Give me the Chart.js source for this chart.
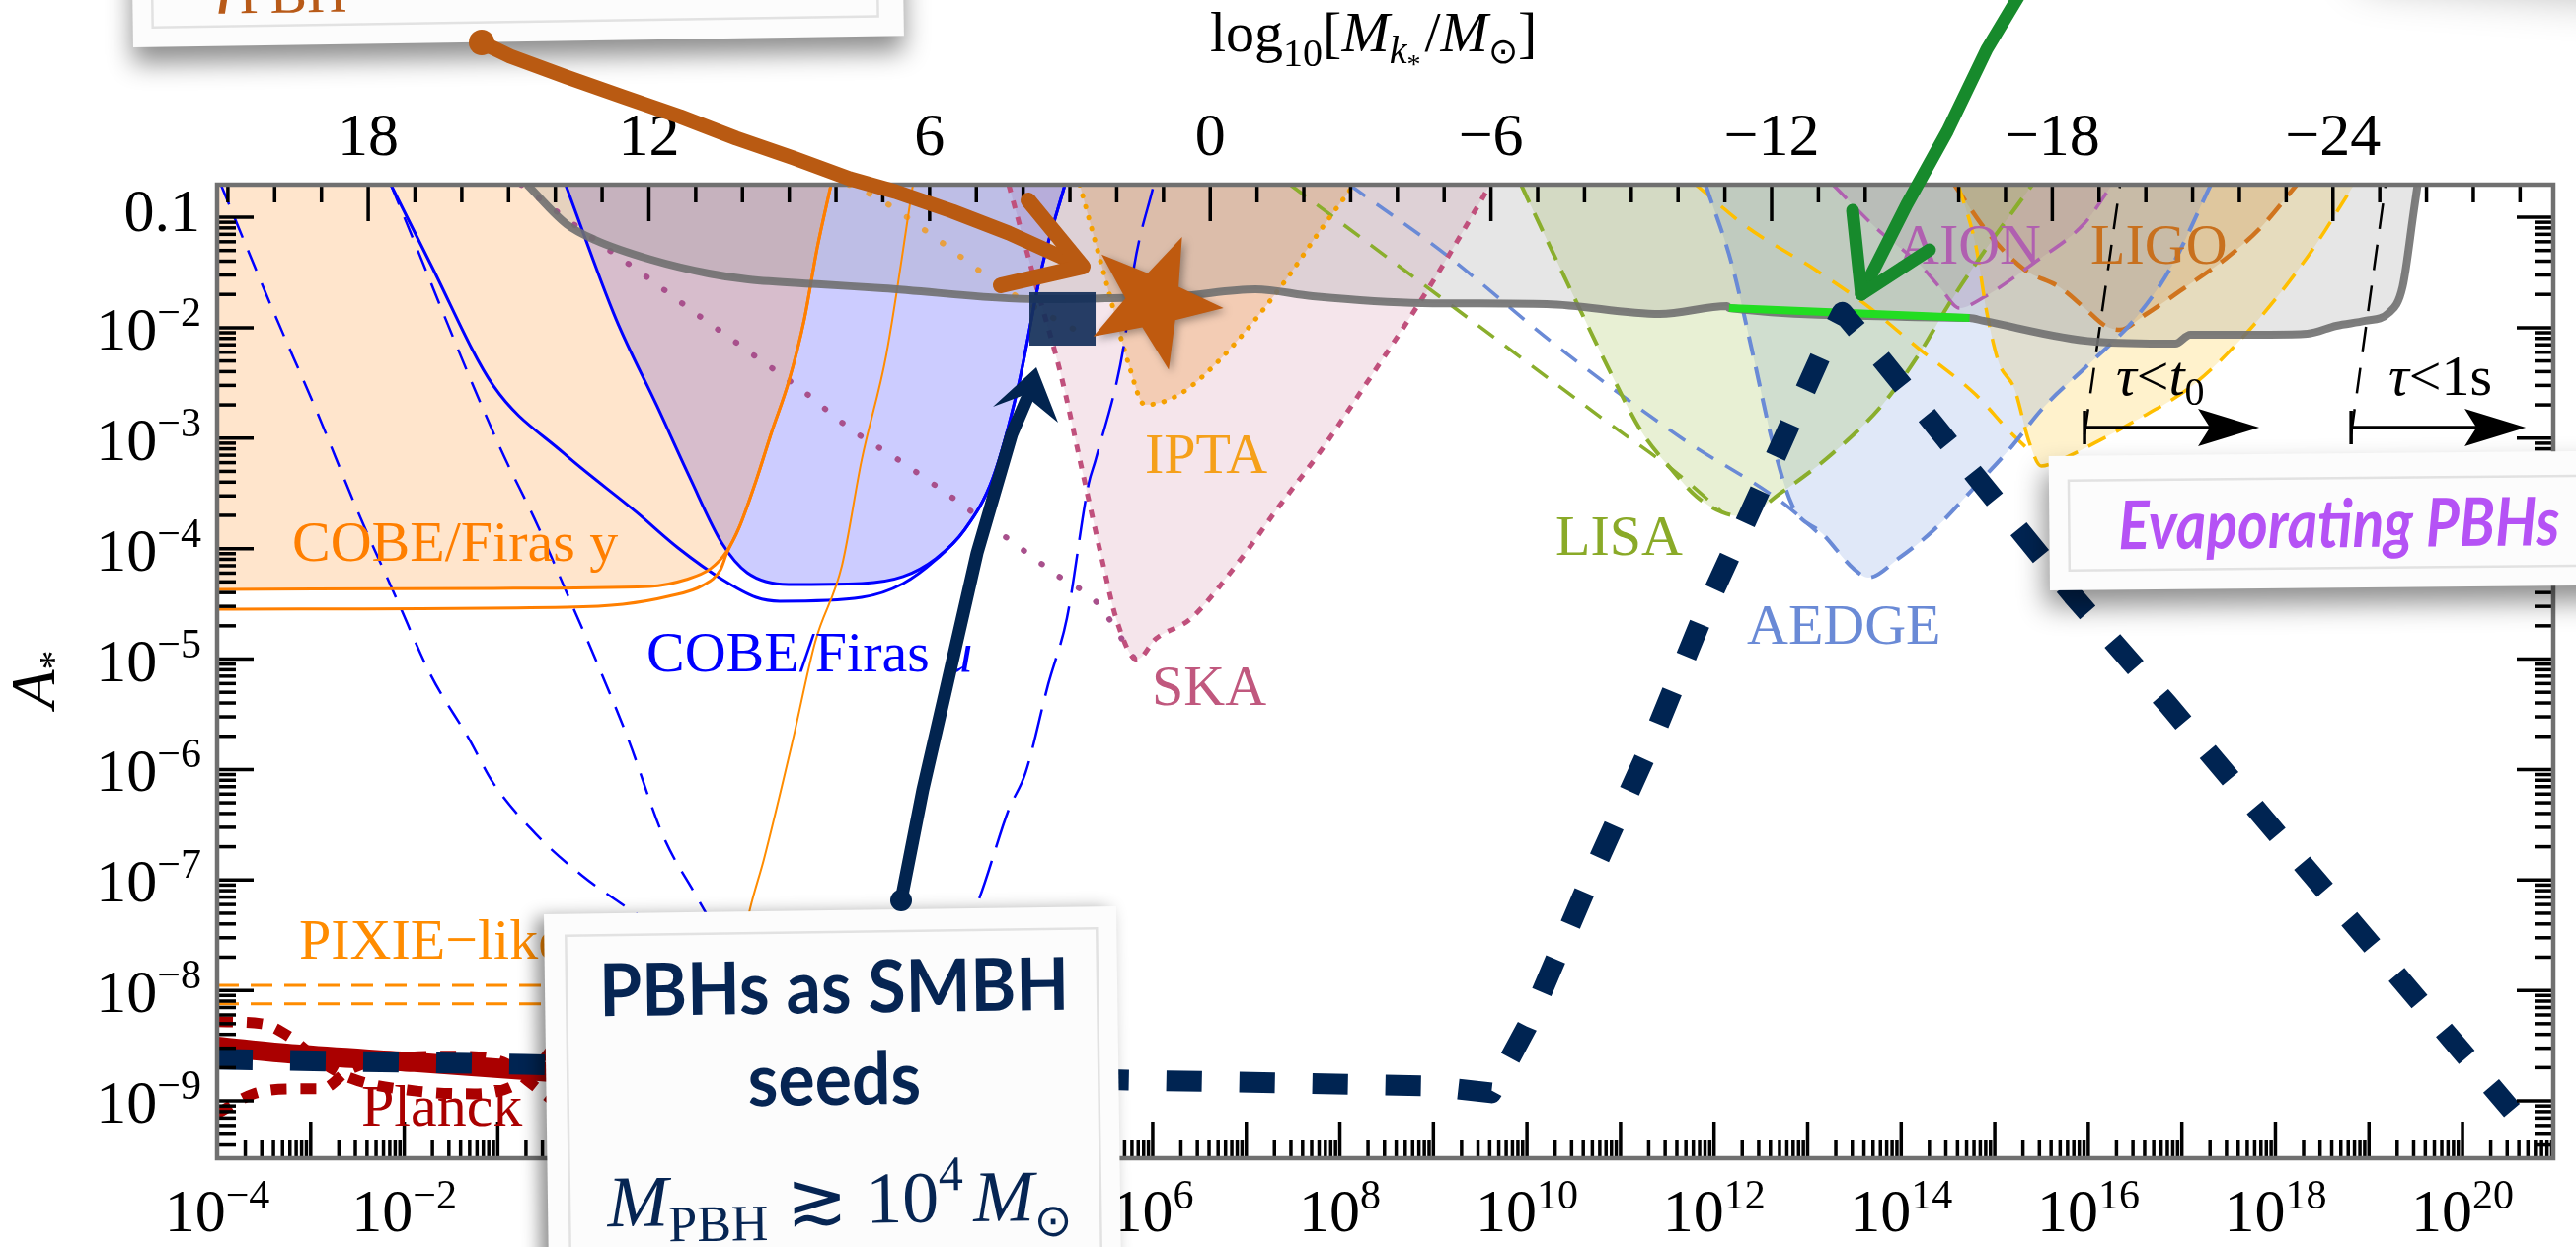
<!DOCTYPE html>
<html>
<head>
<meta charset="utf-8">
<script src="https://cdn.jsdelivr.net/npm/chart.js@4.4.1/dist/chart.umd.min.js"></script>
<style>
  html, body { margin: 0; padding: 0; background: #fff; }
</style>
</head>
<body>
<canvas id="chart" width="2610" height="1263"></canvas>
<script>
// every curve is a list of [log10 k, log10 A*] pairs
const cobeY = [[-4, -4.369], [-1.046, -4.36], [0.621, -4.342], [1.011, -4.28], [1.275, -4.181], [1.444, -4.029], [1.581, -3.806], [1.76, -3.386], [1.929, -2.939], [2.108, -2.492], [2.277, -1.92], [2.414, -1.277], [2.562, -0.705]];
const cobeYLow = [[-4, -4.548], [-0.265, -4.53], [0.336, -4.503], [0.821, -4.432], [1.19, -4.333], [1.38, -4.19], [1.444, -4.05], [1.581, -3.806], [1.76, -3.386], [1.929, -2.939], [2.108, -2.492], [2.277, -1.92], [2.414, -1.277], [2.562, -0.705]];
const orangeThin = [[1.539, -7.88], [1.697, -7.256], [1.845, -6.809], [2.15, -5.745], [2.393, -4.843], [2.678, -4.155], [2.889, -3.198], [3.153, -2.242], [3.437, -0.705]];
const pixieY1 = [[-4, -7.953], [1.0, -7.953]];
const pixieY2 = [[-4, -8.122], [1.0, -8.122]];
const cobeMu = [[-0.276, -0.705], [0.262, -1.92], [0.705, -2.716], [1.053, -3.359], [1.401, -3.958], [1.665, -4.217], [2.108, -4.324], [2.889, -4.315], [3.332, -4.253], [3.68, -4.092], [3.986, -3.833], [4.292, -3.359], [4.556, -2.555], [4.82, -1.438], [5.062, -0.705]];
const cobeMuLow = [[-2.143, -0.705], [-1.721, -1.42], [-1.046, -2.528], [-0.297, -3.136], [0.484, -3.672], [0.927, -3.994], [1.401, -4.28], [1.76, -4.441], [2.013, -4.476], [2.889, -4.441], [3.332, -4.316], [3.68, -4.101], [3.986, -3.833], [4.292, -3.359], [4.556, -2.555], [4.82, -1.438], [5.062, -0.705]];
const pixieMuA = [[-3.96, -0.705], [-3.409, -1.831], [-2.934, -2.76], [-2.502, -3.654], [-2.08, -4.458], [-1.721, -5.138], [-1.299, -5.736], [-1.057, -6.112], [-0.582, -6.594], [-0.097, -6.961], [0.452, -7.291], [1.0, -7.6]];
const pixieMuB = [[-2.143, -0.705], [-0.993, -3.055], [-0.571, -3.797], [-0.265, -4.396], [0.041, -4.995], [0.399, -5.736], [0.768, -6.603], [1.117, -7.139], [1.5, -7.7]];
const pixieMuR = [[3.9, -7.6], [4.134, -7.193], [4.461, -6.362], [4.64, -6.031], [4.883, -5.227], [5.083, -4.628], [5.315, -3.413], [5.389, -3.198], [5.695, -2.144], [5.801, -1.447], [6.012, -0.705]];
const ska = [[4.461, -0.705], [4.756, -1.626], [5.02, -2.43], [5.231, -3.234], [5.442, -4.038], [5.621, -4.664], [5.832, -5.004], [6.033, -4.816], [6.402, -4.637], [6.887, -4.155], [7.373, -3.592], [7.794, -3.118], [8.153, -2.671], [9.008, -1.563], [9.609, -0.705]];
const skaDots = [[-0.751, -0.705], [0.009, -1.188], [0.526, -1.5], [1.095, -1.858], [1.665, -2.206], [2.235, -2.555], [2.762, -2.912], [3.332, -3.225], [3.902, -3.565], [4.429, -3.895], [4.999, -4.253], [5.389, -4.476], [5.811, -5.004]];
const ipta = [[5.22, -0.705], [5.495, -1.563], [5.737, -2.314], [5.917, -2.698], [6.275, -2.609], [6.761, -2.251], [7.373, -1.626], [7.794, -1.116], [8.153, -0.705]];
const iptaDots = [[2.752, -0.705], [3.068, -0.83], [3.68, -1.188], [4.334, -1.599], [4.862, -1.876], [5.284, -2.072]];
const pbhBound = [[-0.687, -0.705], [-0.265, -1.063], [0.041, -1.206], [0.642, -1.384], [1.254, -1.509], [1.676, -1.563], [2.456, -1.608], [3.121, -1.643], [4.777, -1.742], [5.495, -1.733], [6.275, -1.715], [7.098, -1.652], [7.71, -1.715], [8.88, -1.777], [10.21, -1.786], [11.42, -1.876], [12.14, -1.804], [12.16, -1.822], [14.73, -1.912], [14.88, -1.938], [16.07, -2.126], [16.93, -2.144], [17.09, -2.063], [17.94, -2.063], [18.34, -2.055], [18.65, -1.983], [18.96, -1.938], [19.21, -1.867], [19.36, -1.626], [19.48, -0.937], [19.52, -0.705]];
const pbhGreen = [[12.16, -1.822], [14.73, -1.912]];
const lisa = [[9.936, -0.705], [10.253, -1.277], [10.58, -1.858], [10.907, -2.43], [11.223, -2.939], [11.55, -3.288], [11.814, -3.529], [12.088, -3.672], [12.299, -3.708], [12.732, -3.484], [13.27, -3.136], [13.808, -2.689], [14.188, -2.242], [14.504, -1.795], [14.884, -1.313], [15.401, -0.705]];
const lisaDiag = [[7.468, -0.705], [9.061, -1.715], [10.822, -2.832], [11.614, -3.324], [12.088, -3.672]];
const aedgeDiag = [[8.1, -0.705], [9.124, -1.331], [10.274, -2.135], [11.656, -3.002], [12.732, -3.583], [13.1, -3.85]];
const aedge = [[11.909, -0.705], [12.194, -1.438], [12.415, -2.242], [12.626, -3.038], [12.837, -3.61], [13.164, -3.869], [13.491, -4.181], [13.65, -4.262], [13.966, -4.092], [14.346, -3.833], [14.778, -3.449], [15.158, -3.1], [15.527, -2.716], [15.96, -2.367], [16.498, -1.92], [16.888, -1.447], [17.31, -0.705]];
const gold = [[14.61, -0.705], [14.8, -1.268], [14.916, -1.867], [15.042, -2.314], [15.211, -2.555], [15.369, -3.038], [15.496, -3.252], [15.675, -3.207], [16.044, -3.055], [16.466, -2.859], [17.12, -2.519], [17.732, -2.01], [18.344, -1.357], [18.84, -0.705]];
const goldDiag = [[11.803, -0.705], [12.352, -1.089], [13.08, -1.474], [13.639, -1.804], [14.188, -2.189], [14.8, -2.609], [15.158, -2.939], [15.433, -3.163]];
const aion = [[13.27, -0.705], [13.755, -1.116], [14.188, -1.42], [14.43, -1.652], [14.62, -1.822], [14.884, -1.724], [15.422, -1.411], [15.96, -1.054], [16.255, -0.705]];
const ligo = [[14.567, -0.705], [14.937, -1.152], [15.316, -1.474], [15.696, -1.635], [15.96, -1.822], [16.182, -1.983], [16.34, -2.019], [16.603, -1.885], [17.036, -1.635], [17.468, -1.375], [17.848, -1.089], [18.228, -0.705]];
const tauAge = [[15.96, -2.966], [16.34, -0.705]];
const tauSecond = [[18.809, -2.966], [19.178, -0.705]];
const model = [[-4, -8.623], [-0.719, -8.668], [5.737, -8.811], [8.944, -8.864], [9.62, -8.927], [10.0, -8.328], [10.675, -6.987], [11.308, -5.799], [11.909, -4.548], [12.574, -3.324], [13.217, -2.108], [13.37, -1.86], [13.808, -2.305], [14.81, -3.359], [15.833, -4.423], [16.846, -5.406], [17.859, -6.424], [18.872, -7.434], [19.884, -8.444], [20.528, -9.087]];
const planck = [[-4, -8.507], [-3.156, -8.578], [-1.89, -8.65], [-0.455, -8.739], [0.5, -8.8]];
const planckUp = [[-4, -8.283], [-3.525, -8.301], [-3.23, -8.417], [-2.945, -8.614], [-2.576, -8.793], [-1.89, -8.909], [-1.257, -8.936], [-0.835, -8.864], [-0.571, -8.685], [-0.36, -8.462]];
const planckLow = [[-4, -9.114], [-3.61, -8.936], [-3.209, -8.891], [-2.882, -8.891], [-2.576, -8.712], [-2.101, -8.614], [-1.468, -8.596], [-0.941, -8.65], [-0.677, -8.82], [-0.413, -8.998]];
const tauArrowAge = [[15.96, -2.904], [17.827, -2.904]];
const tauArrowSecond = [[18.809, -2.904], [20.676, -2.904]];
const starPoint = [6.012, -1.76];
const seedPatch = [[4.682, -1.679], [5.389, -2.162]];

// axis ranges and tick labels
const logKMin = -4, logKMax = 20.97;
const logAMin = -9.518, logAMax = -0.705;
const massAtUnitK = 13.23; // log10 M_k/M_sun = 13.23 - 2 log10 k
const kLabelExps = [-4, -2, 0, 2, 4, 6, 8, 10, 12, 14, 16, 18, 20];
const aLabelExps = [-1, -2, -3, -4, -5, -6, -7, -8, -9];
const massLabels = [18, 12, 6, 0, -6, -12, -18, -24];

const SERIF = '"Liberation Serif", "Times New Roman", serif';
const SANS = 'Lato, "Open Sans", "Noto Sans", sans-serif';
const minus = (n) => (n < 0 ? "\u2212" + -n : String(n));

function curve(points, o) {
  return {
    data: points.map(([lk, la]) => ({ x: 10 ** lk, y: 10 ** la })),
    borderColor: o.color,
    borderWidth: o.width,
    borderDash: o.dash || [],
    borderCapStyle: o.cap || "butt",
    borderJoinStyle: "round",
    backgroundColor: o.fill || "transparent",
    fill: o.fill ? "end" : false,
    cubicInterpolationMode: o.straight ? "default" : "monotone",
    tension: 0,
    pointRadius: 0,
    clip: 0,
    order: o.order ?? 6,
  };
}

const datasets = [
  curve(model, { color: "#002452", width: 21, dash: [36, 38], order: 0, straight: true }),
  curve(planck, { color: "#aa0000", width: 20, order: 1 }),
  curve(planckUp, { color: "#aa0000", width: 11, dash: [16, 14], order: 1 }),
  curve(planckLow, { color: "#aa0000", width: 11, dash: [16, 14], order: 1 }),
  curve(pbhGreen, { color: "#22dd22", width: 8, order: 2, straight: true }),
  curve(pbhBound, { color: "rgba(112,112,112,0.9)", width: 8, order: 3, fill: "rgba(128,128,128,0.2)" }),
  curve(cobeY, { color: "#ff7f00", width: 3, fill: "rgba(255,127,0,0.2)" }),
  curve(cobeYLow, { color: "#ff7f00", width: 3 }),
  curve(orangeThin, { color: "#ff8c00", width: 2 }),
  curve(pixieY1, { color: "#ff8c00", width: 3, dash: [22, 12], straight: true }),
  curve(pixieY2, { color: "#ff8c00", width: 3, dash: [22, 12], straight: true }),
  curve(cobeMu, { color: "#0000ff", width: 3, fill: "rgba(0,0,255,0.2)" }),
  curve(cobeMuLow, { color: "#0000ff", width: 3 }),
  curve(pixieMuA, { color: "#0000ff", width: 2.5, dash: [22, 14] }),
  curve(pixieMuB, { color: "#0000ff", width: 2.5, dash: [22, 14] }),
  curve(pixieMuR, { color: "#0000ff", width: 2.5, dash: [40, 14] }),
  curve(ska, { color: "#c0507c", width: 5, dash: [8, 9], fill: "rgba(190,80,120,0.15)" }),
  curve(skaDots, { color: "#a8508c", width: 6, dash: [0.5, 22], cap: "round" }),
  curve(ipta, { color: "#f5a000", width: 5, dash: [0.5, 11], cap: "round", fill: "rgba(250,160,40,0.3)" }),
  curve(iptaDots, { color: "#e8a040", width: 6, dash: [0.5, 22], cap: "round" }),
  curve(lisa, { color: "#8aae2c", width: 4, dash: [20, 12], fill: "rgba(150,185,60,0.22)" }),
  curve(lisaDiag, { color: "#8aae2c", width: 3.5, dash: [20, 14] }),
  curve(aedgeDiag, { color: "#6a8ad6", width: 3.5, dash: [20, 14] }),
  curve(aedge, { color: "#6a8ad6", width: 4, dash: [20, 12], fill: "rgba(100,140,220,0.2)" }),
  curve(gold, { color: "#ffbf00", width: 3.5, dash: [20, 12], fill: "rgba(255,190,0,0.2)" }),
  curve(goldDiag, { color: "#ffbf00", width: 3.5, dash: [20, 14] }),
  curve(aion, { color: "#b060b0", width: 3.5, dash: [20, 12], fill: "rgba(170,90,170,0.18)" }),
  curve(ligo, { color: "#d0741e", width: 4.5, dash: [20, 12], fill: "rgba(210,110,30,0.22)" }),
  curve(tauAge, { color: "#000", width: 2.5, dash: [26, 16], straight: true }),
  curve(tauSecond, { color: "#000", width: 2.5, dash: [26, 16], straight: true }),
];

// text made of runs with own size / style / shift
function runFont(r, base) {
  const size = r.size || base.size;
  const style = r.italic ? "italic " : "";
  const weight = r.weight || base.weight || "normal";
  return `${style}${weight} ${size}px ${r.family || base.family || SERIF}`;
}

function drawRich(ctx, runs, x, y, opt) {
  const base = Object.assign({ size: 58, align: "left", color: "#000" }, opt);
  let total = 0;
  const widths = runs.map((r) => {
    ctx.font = runFont(r, base);
    const w = ctx.measureText(r.t).width + (r.gap || 0);
    total += w;
    return w;
  });
  let cx = x;
  if (base.align === "center") cx = x - total / 2;
  if (base.align === "right") cx = x - total;
  ctx.fillStyle = base.color;
  ctx.textAlign = "left";
  ctx.textBaseline = "alphabetic";
  runs.forEach((r, i) => {
    ctx.font = runFont(r, base);
    ctx.fillText(r.t, cx, y + (r.dy || 0));
    cx += widths[i];
  });
  return total;
}

function drawFit(ctx, text, x, y, width, font, color) {
  ctx.font = font;
  const w = ctx.measureText(text).width;
  ctx.save();
  ctx.translate(x, y);
  ctx.scale(width / w, 1);
  ctx.fillStyle = color;
  ctx.textAlign = "left";
  ctx.textBaseline = "alphabetic";
  ctx.fillText(text, 0, 0);
  ctx.restore();
}

const powRuns = (e) => [{ t: "10" }, { t: minus(e), size: 42, dy: -24 }];

const plotLabels = [
  { runs: [{ t: "COBE/Firas y" }], x: 296, y: 568, color: "#ff7f00" },
  { runs: [{ t: "COBE/Firas " }, { t: "\u03bc", italic: true }], x: 655, y: 680, color: "#0000ff" },
  { runs: [{ t: "IPTA" }], x: 1160, y: 479, color: "#f5a01a" },
  { runs: [{ t: "SKA" }], x: 1167, y: 714, color: "#c0587e" },
  { runs: [{ t: "LISA" }], x: 1576, y: 562, color: "#8aaa28" },
  { runs: [{ t: "AEDGE" }], x: 1770, y: 652, color: "#6a8ad6" },
  { runs: [{ t: "AION" }], x: 1923, y: 267, color: "#b060b0" },
  { runs: [{ t: "LIGO" }], x: 2118, y: 267, color: "#c8701e" },
  { runs: [{ t: "PIXIE\u2212like" }], x: 303, y: 971, color: "#ff8c00" },
  { runs: [{ t: "Planck" }], x: 366, y: 1140, color: "#aa0000", size: 60 },
  { runs: [{ t: "\u03c4", italic: true }, { t: "<" }, { t: "t", italic: true }, { t: "0", size: 40, dy: 10 }], x: 2144, y: 400, color: "#000" },
  { runs: [{ t: "\u03c4", italic: true }, { t: "<1s" }], x: 2420, y: 400, color: "#000" },
];

const frameAxes = {
  id: "frameAxes",
  afterDatasetsDraw(chart) {
    const { ctx, chartArea: a } = chart;
    const { x, y, xTop } = chart.scales;
    ctx.save();

    // navy seed patch and the star
    const [p0, p1] = seedPatch;
    const bx0 = x.getPixelForValue(10 ** p0[0]), by0 = y.getPixelForValue(10 ** p0[1]);
    const bx1 = x.getPixelForValue(10 ** p1[0]), by1 = y.getPixelForValue(10 ** p1[1]);
    ctx.fillStyle = "rgba(22,48,90,0.93)";
    ctx.fillRect(bx0, by0, bx1 - bx0, by1 - by0);

    const sx = x.getPixelForValue(10 ** starPoint[0]), sy = y.getPixelForValue(10 ** starPoint[1]);
    ctx.save();
    ctx.shadowColor = "rgba(0,0,0,0.35)";
    ctx.shadowBlur = 8;
    ctx.shadowOffsetX = 3;
    ctx.shadowOffsetY = 3;
    ctx.fillStyle = "#bf5a0f";
    ctx.beginPath();
    for (let i = 0; i < 10; i++) {
      const ang = 0.1 + (i * Math.PI) / 5;
      const rad = i % 2 === 0 ? 71 : 29;
      const px = sx + rad * Math.cos(ang), py = sy + rad * Math.sin(ang);
      i === 0 ? ctx.moveTo(px, py) : ctx.lineTo(px, py);
    }
    ctx.closePath();
    ctx.fill();
    ctx.restore();

    // tau arrows
    [tauArrowAge, tauArrowSecond].forEach(([s, e]) => {
      const x1 = x.getPixelForValue(10 ** s[0]), x2 = x.getPixelForValue(10 ** e[0]);
      const yy = y.getPixelForValue(10 ** s[1]);
      ctx.strokeStyle = "#000";
      ctx.lineWidth = 3.5;
      ctx.beginPath();
      ctx.moveTo(x1, yy - 17); ctx.lineTo(x1, yy + 17);
      ctx.moveTo(x1, yy); ctx.lineTo(x2 - 40, yy);
      ctx.stroke();
      ctx.fillStyle = "#000";
      ctx.beginPath();
      ctx.moveTo(x2, yy); ctx.lineTo(x2 - 62, yy - 19); ctx.lineTo(x2 - 50, yy); ctx.lineTo(x2 - 62, yy + 19);
      ctx.closePath();
      ctx.fill();
    });

    // ticks, all pointing inward
    ctx.strokeStyle = "#000";
    ctx.lineWidth = 3.5;
    const line = (x1, y1, x2, y2) => { ctx.beginPath(); ctx.moveTo(x1, y1); ctx.lineTo(x2, y2); ctx.stroke(); };
    for (let e = Math.floor(logKMin); e <= Math.ceil(logKMax); e++) {
      for (let m = 1; m <= 9; m++) {
        const v = m * 10 ** e;
        if (Math.log10(v) < logKMin - 1e-9 || Math.log10(v) > logKMax) continue;
        const px = x.getPixelForValue(v);
        line(px, a.bottom, px, a.bottom - (m === 1 ? 37 : 18));
      }
    }
    for (let e = Math.floor(logAMin); e <= Math.ceil(logAMax); e++) {
      for (let m = 1; m <= 9; m++) {
        const v = m * 10 ** e;
        if (Math.log10(v) < logAMin || Math.log10(v) > logAMax) continue;
        const py = y.getPixelForValue(v);
        const len = m === 1 ? 37 : 19;
        line(a.left, py, a.left + len, py);
        line(a.right, py, a.right - len, py);
      }
    }
    for (let n = Math.ceil(xTop.min); n <= Math.floor(xTop.max); n++) {
      const px = xTop.getPixelForValue(n);
      line(px, a.top, px, a.top + (n % 6 === 0 ? 37 : 18));
    }

    ctx.strokeStyle = "#707070";
    ctx.lineWidth = 4.5;
    ctx.strokeRect(a.left, a.top, a.right - a.left, a.bottom - a.top);

    // tick labels
    kLabelExps.forEach((e) => {
      drawRich(ctx, [{ t: "10" }, { t: minus(e), size: 42, dy: -23 }], x.getPixelForValue(10 ** e), a.bottom + 74, { size: 62, align: "center" });
    });
    aLabelExps.forEach((e) => {
      const py = y.getPixelForValue(10 ** e);
      if (e === -1) drawRich(ctx, [{ t: "0.1" }], a.left - 17, py + 14, { size: 62, align: "right" });
      else drawRich(ctx, powRuns(e), a.left - 16, py + 22, { size: 62, align: "right" });
    });
    massLabels.forEach((n) => {
      drawRich(ctx, [{ t: minus(n) }], xTop.getPixelForValue(n), a.top - 30, { size: 62, align: "center" });
    });

    // axis titles
    drawRich(ctx, [
      { t: "log" }, { t: "10", size: 40, dy: 15 }, { t: "[" }, { t: "M", italic: true },
      { t: "k", italic: true, size: 40, dy: 12 }, { t: "*", size: 28, dy: 22, gap: 4 }, { t: "/" },
      { t: "M", italic: true }, { t: "\u2299", size: 36, dy: 12 }, { t: "]" },
    ], 1226, 52, { size: 58 });
    ctx.save();
    ctx.translate(55, 688);
    ctx.rotate(-Math.PI / 2);
    drawRich(ctx, [{ t: "A", italic: true }, { t: "*", size: 40, dy: 12 }], 0, 0, { size: 64, align: "center" });
    ctx.restore();

    plotLabels.forEach((l) => drawRich(ctx, l.runs, l.x, l.y, { color: l.color, size: l.size || 58 }));
    ctx.restore();
  },
};

function paper(ctx, ox, oy, angle, rect, inner, shadow, content) {
  ctx.save();
  ctx.translate(ox, oy);
  ctx.rotate(angle);
  ctx.shadowColor = shadow.color || "rgba(0,0,0,0.45)";
  ctx.shadowBlur = shadow.blur;
  ctx.shadowOffsetX = shadow.dx;
  ctx.shadowOffsetY = shadow.dy;
  ctx.fillStyle = "#fcfcfc";
  ctx.fillRect(rect[0], rect[1], rect[2], rect[3]);
  ctx.shadowColor = "transparent";
  if (inner) {
    ctx.strokeStyle = "#e2e2e2";
    ctx.lineWidth = 2.5;
    ctx.strokeRect(inner[0], inner[1], inner[2], inner[3]);
  }
  if (content) content(ctx);
  ctx.restore();
}

function handLine(ctx, pts, color, width) {
  ctx.strokeStyle = color;
  ctx.lineWidth = width;
  ctx.lineCap = "round";
  ctx.lineJoin = "round";
  ctx.beginPath();
  pts.forEach(([px, py], i) => (i === 0 ? ctx.moveTo(px, py) : ctx.lineTo(px, py)));
  ctx.stroke();
}

const notes = {
  id: "notes",
  afterDraw(chart) {
    const ctx = chart.ctx;
    ctx.save();

    // soft shadow falling in from a note above the top right corner
    paper(ctx, 2390, -55, 0.07, [0, -300, 420, 300], null, { blur: 45, dx: 0, dy: 35, color: "rgba(0,0,0,0.3)" });

    // f_PBH note, mostly above the picture
    paper(ctx, 135, 48, -0.0152, [0, -170, 781, 170], [20, -170, 735, 150], { blur: 26, dx: 0, dy: 16 }, (c) => {
      drawRich(c, [{ t: "f", italic: true }, { t: "PBH", size: 56, dy: 17 }], 86, -50, { size: 80, color: "#b85a18" });
    });

    // evaporating PBHs
    paper(ctx, 2077, 598, -0.0094, [0, -136, 580, 136], [20, -111, 600, 91], { blur: 28, dx: -4, dy: 16 }, (c) => {
      drawFit(c, "Evaporating PBHs", 70, -41, 447, `italic bold 68px ${SANS}`, "#b552f5");
    });

    // SMBH seeds
    paper(ctx, 551, 926, -0.0138, [0, 0, 580, 420], [22, 22, 538, 420], { blur: 18, dx: -8, dy: 4 }, (c) => {
      const boxFont = `bold 74px ${SANS}`;
      drawFit(c, "PBHs as SMBH", 55, 104, 476, boxFont, "#062553");
      c.font = boxFont;
      const w = c.measureText("seeds").width * (476 / c.measureText("PBHs as SMBH").width);
      drawFit(c, "seeds", 292 - w / 2, 197, w, boxFont, "#062553");
      drawRich(c, [
        { t: "M", italic: true }, { t: "PBH", size: 52, dy: 16 }, { t: " \u2273 " },
        { t: "10" }, { t: "4", size: 50, dy: -32, gap: 10 }, { t: "M", italic: true }, { t: "\u2299", size: 46, dy: 16 },
      ], 296, 317, { size: 74, align: "center", color: "#062553" });
    });

    // hand drawn arrows
    handLine(ctx, [[488, 43], [517, 57], [574, 78], [631, 98], [689, 118], [746, 140], [804, 160], [861, 181], [907, 194], [965, 214], [1022, 236], [1097, 270]], "#b95a12", 15);
    handLine(ctx, [[1042, 203], [1097, 270], [1014, 289]], "#b95a12", 16);
    ctx.fillStyle = "#b95a12";
    ctx.beginPath(); ctx.arc(488, 43, 13, 0, 2 * Math.PI); ctx.fill();

    handLine(ctx, [[2046, -5], [2013, 50], [1973, 133], [1932, 207], [1886, 298]], "#178a2c", 13);
    handLine(ctx, [[1877, 213], [1886, 298], [1955, 253]], "#178a2c", 13);

    handLine(ctx, [[913, 912], [935, 800], [958, 700], [990, 560], [1025, 440], [1040, 405]], "#02244f", 13);
    ctx.fillStyle = "#02244f";
    ctx.beginPath(); ctx.arc(913, 912, 11, 0, 2 * Math.PI); ctx.fill();
    ctx.beginPath();
    ctx.moveTo(1050, 372); ctx.lineTo(1006, 412); ctx.lineTo(1038, 400); ctx.lineTo(1072, 428);
    ctx.closePath();
    ctx.fill();

    ctx.restore();
  },
};

new Chart(document.getElementById("chart"), {
  type: "line",
  data: { datasets },
  options: {
    responsive: false,
    animation: false,
    devicePixelRatio: 1,
    events: [],
    layout: { padding: { left: 220, top: 187, right: 23, bottom: 90 } },
    plugins: {
      legend: { display: false },
      tooltip: { enabled: false },
      filler: { drawTime: "beforeDatasetsDraw" },
    },
    scales: {
      x: { type: "logarithmic", min: 10 ** logKMin, max: 10 ** logKMax, bounds: "data", display: false },
      y: { type: "logarithmic", min: 10 ** logAMin, max: 10 ** logAMax, bounds: "data", display: false },
      xTop: {
        type: "linear", position: "top", reverse: true, bounds: "data", display: false,
        min: massAtUnitK - 2 * logKMax, max: massAtUnitK - 2 * logKMin,
      },
    },
  },
  plugins: [frameAxes, notes],
});
</script>
</body>
</html>
